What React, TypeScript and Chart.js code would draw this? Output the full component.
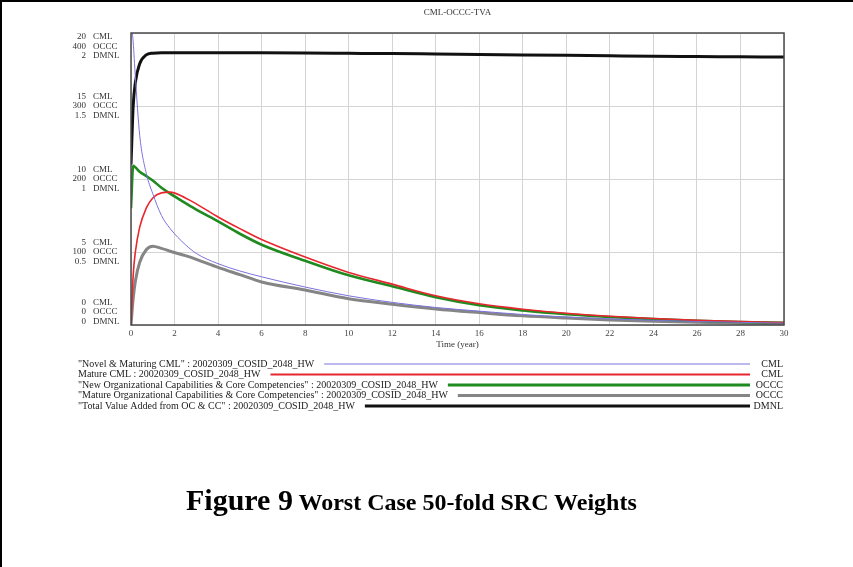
import React, { useEffect, useRef } from "react";
import { Chart, registerables } from "chart.js";

Chart.register(...registerables);

// Simulation time (years)
const timeYears = [0, 0.1, 0.2, 0.4, 0.7, 1, 1.4, 1.8, 2.5, 3, 4, 5, 6, 8, 10, 12, 14, 16, 18, 20, 22, 24, 26, 28, 30];

// "Novel & Maturing CML" (CML)
const novelMaturingCML = [20.8, 19.4, 17.0, 13.0, 10.4, 9.0, 7.5, 6.6, 5.5, 4.9, 4.2, 3.7, 3.3, 2.6, 2.0, 1.55, 1.2, 0.95, 0.72, 0.55, 0.42, 0.32, 0.24, 0.18, 0.13];
// Mature CML (CML)
const matureCML = [0, 3.4, 5.0, 6.7, 8.0, 8.7, 9.05, 9.1, 8.7, 8.3, 7.4, 6.6, 5.85, 4.65, 3.6, 2.8, 2.0, 1.45, 1.08, 0.8, 0.6, 0.45, 0.32, 0.23, 0.16];
// "New Organizational Capabilities & Core Competencies" (OCCC)
const newOCCC = [160, 218, 216, 210, 204, 198, 188, 180, 167, 158, 142, 125, 110, 88, 68, 53, 38, 27, 20, 14.8, 11, 8, 5.8, 4.2, 3];
// "Mature Organizational Capabilities & Core Competencies" (OCCC)
const matureOCCC = [0, 36, 60, 86, 103, 108, 105, 101, 95, 90, 79, 69, 59, 48, 36, 28.5, 22, 17, 12.5, 9.5, 7, 5, 3.6, 2.5, 1.8];
// "Total Value Added from OC & CC" (DMNL)
const totalValueAdded = [1.1, 1.5, 1.66, 1.79, 1.85, 1.862, 1.865, 1.865, 1.865, 1.865, 1.865, 1.864, 1.864, 1.863, 1.861, 1.859, 1.856, 1.853, 1.85, 1.847, 1.844, 1.841, 1.839, 1.837, 1.835];

// Left-hand scale labels: one CML value per grid line, with the matching OCCC and DMNL values
const cmlTicks = [0, 5, 10, 15, 20];
const occcTicks = ["0", "100", "200", "300", "400"];
const dmnlTicks = ["0", "0.5", "1", "1.5", "2"];

const legendLabels = [
  "\"Novel & Maturing CML\" : 20020309_COSID_2048_HW",
  "Mature CML : 20020309_COSID_2048_HW",
  "\"New Organizational Capabilities & Core Competencies\" : 20020309_COSID_2048_HW",
  "\"Mature Organizational Capabilities & Core Competencies\" : 20020309_COSID_2048_HW",
  "\"Total Value Added from OC & CC\" : 20020309_COSID_2048_HW",
];
const legendUnits = ["CML", "CML", "OCCC", "OCCC", "DMNL"];

const SERIF = "'Liberation Serif', 'Times New Roman', serif";

const toPoints = (ys: number[]) => timeYears.map((x, i) => ({ x, y: ys[i] }));

const vensimPlugin = {
  id: "vensimDecor",
  afterDatasetsDraw(chart: any) {
    const { ctx, chartArea } = chart;
    ctx.save();
    ctx.strokeStyle = "#4a4a4a";
    ctx.lineWidth = 1.5;
    ctx.strokeRect(chartArea.left, chartArea.top, chartArea.right - chartArea.left, chartArea.bottom - chartArea.top);
    ctx.restore();
  },
  afterDraw(chart: any) {
    const { ctx, chartArea } = chart;
    const yScale = chart.scales.yCML;
    const xScale = chart.scales.x;
    ctx.save();

    // page frame
    ctx.fillStyle = "#000";
    ctx.fillRect(0, 0, chart.width, 2);
    ctx.fillRect(0, 0, 2, chart.height);

    // chart title
    ctx.fillStyle = "#333";
    ctx.font = `9px ${SERIF}`;
    ctx.textAlign = "center";
    ctx.textBaseline = "middle";
    ctx.fillText("CML-OCCC-TVA", (chartArea.left + chartArea.right) / 2, 13);

    // x axis title
    ctx.fillText("Time (year)", (xScale.left + xScale.right) / 2, 345);

    // stacked left-hand scale labels
    const lh = 9.6;
    cmlTicks.forEach((v, i) => {
      let c = yScale.getPixelForValue(v);
      c = Math.max(chartArea.top + 13.5, Math.min(chartArea.bottom - 13, c));
      const rows = [
        [String(v), "CML"],
        [occcTicks[i], "OCCC"],
        [dmnlTicks[i], "DMNL"],
      ];
      rows.forEach((r, k) => {
        const y = c + (k - 1) * lh;
        ctx.textAlign = "right";
        ctx.fillText(r[0], 86, y);
        ctx.textAlign = "left";
        ctx.fillText(r[1], 93, y);
      });
    });

    // series key
    ctx.font = `10px ${SERIF}`;
    const datasets = chart.data.datasets;
    legendLabels.forEach((label, i) => {
      const y = 364 + i * 10.5;
      const ds = datasets[i];
      ctx.fillStyle = "#222";
      ctx.textAlign = "left";
      ctx.fillText(label, 78, y);
      const w = ctx.measureText(label).width;
      ctx.strokeStyle = ds.borderColor;
      ctx.lineWidth = ds.legendWidth;
      ctx.beginPath();
      ctx.moveTo(78 + w + 10, y);
      ctx.lineTo(750, y);
      ctx.stroke();
      ctx.textAlign = "right";
      ctx.fillText(legendUnits[i], 783, y);
    });
    ctx.restore();
  },
};

export default function App() {
  const canvasRef = useRef<HTMLCanvasElement | null>(null);

  useEffect(() => {
    if (!canvasRef.current) return;
    const chart = new Chart(canvasRef.current, {
      type: "line",
      data: {
        datasets: [
          { label: "Novel & Maturing CML", data: toPoints(novelMaturingCML), yAxisID: "yCML", borderColor: "#7a72dc", borderWidth: 1, legendWidth: 1.2 } as any,
          { label: "Mature CML", data: toPoints(matureCML), yAxisID: "yCML", borderColor: "#e8262e", borderWidth: 1.6, legendWidth: 2 } as any,
          { label: "New Organizational Capabilities & Core Competencies", data: toPoints(newOCCC), yAxisID: "yOCCC", borderColor: "#1f8a1f", borderWidth: 2.6, legendWidth: 3 } as any,
          { label: "Mature Organizational Capabilities & Core Competencies", data: toPoints(matureOCCC), yAxisID: "yOCCC", borderColor: "#858585", borderWidth: 3, legendWidth: 3 } as any,
          { label: "Total Value Added from OC & CC", data: toPoints(totalValueAdded), yAxisID: "yDMNL", borderColor: "#111111", borderWidth: 3, legendWidth: 3 } as any,
        ],
      },
      options: {
        animation: false,
        responsive: false,
        elements: { point: { radius: 0 }, line: { cubicInterpolationMode: "monotone", fill: false } },
        layout: { padding: { top: 33, right: 69, left: 0, bottom: 0 } },
        plugins: { legend: { display: false }, tooltip: { enabled: false }, title: { display: false } },
        scales: {
          x: {
            type: "linear",
            min: 0,
            max: 30,
            ticks: { stepSize: 2, padding: 3, maxRotation: 0, color: "#444", font: { family: SERIF, size: 9 } },
            grid: { color: "#d4d4d4", drawTicks: false },
            border: { display: false },
            afterFit: (s: any) => { s.height = 242; },
          },
          yCML: {
            position: "left",
            min: 0,
            max: 20,
            ticks: { stepSize: 5, display: false },
            grid: { color: "#d4d4d4", drawTicks: false },
            border: { display: false },
            afterFit: (s: any) => { s.width = 131; },
          },
          yOCCC: { display: false, min: 0, max: 400 },
          yDMNL: { display: false, min: 0, max: 2 },
        },
      } as any,
      plugins: [vensimPlugin],
    });
    return () => chart.destroy();
  }, []);

  return (
    <div style={{ position: "fixed", left: 0, top: 0, width: 853, height: 567, background: "#fff" }}>
      <canvas ref={canvasRef} width={853} height={567} style={{ display: "block" }} />
      <div
        style={{
          position: "absolute",
          left: 186,
          top: 480,
          fontFamily: SERIF,
          fontWeight: "bold",
          color: "#000",
          whiteSpace: "nowrap",
          lineHeight: "40px",
        }}
      >
        <span style={{ fontSize: 30 }}>Figure 9</span>
        <span style={{ fontSize: 24 }}> Worst Case 50-fold SRC Weights</span>
      </div>
    </div>
  );
}
